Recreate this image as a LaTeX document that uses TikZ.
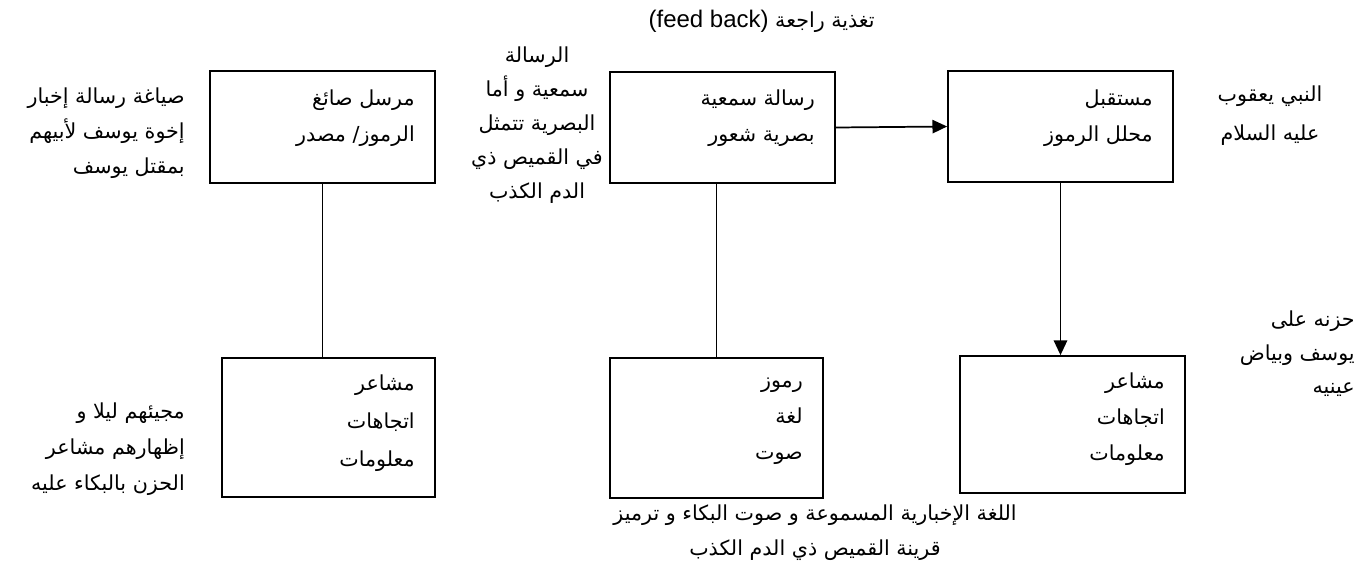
\documentclass[tikz,border=0pt]{standalone}
\usepackage{fontspec}
\usetikzlibrary{arrows.meta}
\TeXXeTstate=1
\newfontfamily\arabicfont[Script=Arabic]{DejaVu Sans}
\newfontfamily\latinfont{Liberation Sans}
\newcommand{\arln}[1]{\beginR #1\endR}

\begin{document}
\begin{tikzpicture}[x=0.75pt,y=0.75pt,yscale=-1,
  blk/.style={draw, line width=1.3pt, inner sep=0pt},
  artxt/.style={font=\arabicfont\fontsize{15.5}{#1}\selectfont, inner sep=0pt},
  artxt/.default=27pt,
  lnk/.style={line width=1.3pt},
  arw/.style={line width=1.3pt, -{Triangle[length=11pt,width=10pt]}}]
\useasboundingbox (0,0) rectangle (1367,572);

%Shape: Rectangle
\node [blk, minimum width=168.75pt, minimum height=84pt] (sender) at (322.5,127) {};
%Shape: Rectangle
\node [blk, minimum width=168.75pt, minimum height=83.25pt] (message) at (722.5,127.5) {};
%Shape: Rectangle
\node [blk, minimum width=168.75pt, minimum height=83.25pt] (receiver) at (1060.5,126.5) {};
%Shape: Rectangle
\node [blk, minimum width=159.75pt, minimum height=104.25pt] (feelA) at (328.5,427.5) {};
%Shape: Rectangle
\node [blk, minimum width=159.75pt, minimum height=105pt] (codes) at (716.5,428) {};
%Shape: Rectangle
\node [blk, minimum width=168.75pt, minimum height=102.75pt] (feelB) at (1072.5,424.5) {};

%Straight Lines
\draw [lnk] (sender.south) -- (sender.south |- feelA.north);
\draw [lnk] (message.south -| codes.north) -- (codes.north);
\draw [arw] (message.east) -- (receiver.west);
\draw [arw] (receiver.south) -- (receiver.south |- feelB.north);

% Text Node
\draw (875,27) node [anchor=base east, inner sep=0pt] (title) {\arabicfont\fontsize{15.5}{18}\selectfont\beginR تغذية راجعة \beginL{\latinfont\fontsize{18}{20}\selectfont(feed back)}\endL\endR};
% Text Node
\draw (415,90) node [artxt, anchor=north east, align=right] (sendertxt) {\arln{مرسل صائغ}\\\arln{الرموز/ مصدر}};
% Text Node
\draw (815,90) node [artxt, anchor=north east, align=right] (messagetxt) {\arln{رسالة سمعية}\\\arln{بصرية شعور}};
% Text Node
\draw (1153,90) node [artxt, anchor=north east, align=right] (receivertxt) {\arln{مستقبل}\\\arln{محلل الرموز}};
% Text Node
\draw (415,375) node [artxt=28.5pt, anchor=north east, align=right] (feelAtxt) {\arln{مشاعر}\\\arln{اتجاهات}\\\arln{معلومات}};
% Text Node
\draw (803,378) node [artxt, anchor=north east, align=right] (codestxt) {\arln{رموز}\\\arln{لغة}\\\arln{صوت}};
% Text Node
\draw (1165,373) node [artxt, anchor=north east, align=right] (feelBtxt) {\arln{مشاعر}\\\arln{اتجاهات}\\\arln{معلومات}};
% Text Node
\draw (185,88) node [artxt=26pt, anchor=north east, align=right] (senderinfo) {\arln{صياغة رسالة إخبار}\\\arln{إخوة يوسف لأبيهم}\\\arln{بمقتل يوسف}};
% Text Node
\draw (185,403) node [artxt, anchor=north east, align=right] (feelAinfo) {\arln{مجيئهم ليلا و}\\\arln{إظهارهم مشاعر}\\\arln{الحزن بالبكاء عليه}};
% Text Node
\draw (537,47) node [artxt=25.5pt, anchor=north, align=center] (messageinfo) {\arln{الرسالة}\\\arln{سمعية و أما}\\\arln{البصرية تتمثل}\\\arln{في القميص ذي}\\\arln{الدم الكذب}};
% Text Node
\draw (1270,86) node [artxt=29pt, anchor=north, align=center] (receiverinfo) {\arln{النبي يعقوب}\\\arln{عليه السلام}};
% Text Node
\draw (1355,311) node [artxt=25pt, anchor=north east, align=right] (feelBinfo) {\arln{حزنه على}\\\arln{يوسف وبياض}\\\arln{عينيه}};
% Text Node
\draw (815,505) node [artxt=26pt, anchor=north, align=center] (codesinfo) {\arln{اللغة الإخبارية المسموعة و صوت البكاء و ترميز}\\\arln{قرينة القميص ذي الدم الكذب}};
\end{tikzpicture}
\end{document}
